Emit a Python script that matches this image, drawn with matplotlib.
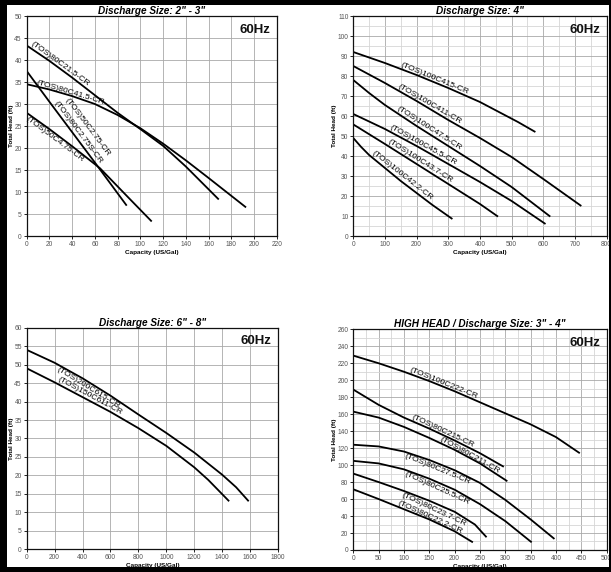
import numpy as np
import matplotlib
matplotlib.use("Agg")
from matplotlib import pyplot as plt
from matplotlib.patches import Rectangle
from matplotlib.ticker import MultipleLocator

plt.rcParams['font.family'] = ['Liberation Sans', 'DejaVu Sans']

# ---- Discharge Size: 2" - 3"  (capacity US/Gal, head ft)
q_80c215 = [0, 20, 40, 60, 80, 100, 120, 140, 169]
h_80c215 = [43.3, 39.8, 36.0, 32.0, 28.0, 24.3, 20.5, 15.8, 8.3]
q_80c415 = [0, 20, 40, 60, 80, 100, 120, 140, 160, 193]
h_80c415 = [34.5, 33.3, 31.8, 30.0, 27.5, 24.5, 21.0, 17.2, 13.2, 6.5]
q_50c275 = [0, 20, 40, 60, 88]
h_50c275 = [37.5, 30.5, 23.6, 16.7, 6.9]
q_50c475 = [0, 20, 40, 64.5, 90, 110]
h_50c475 = [28.0, 24.3, 20.4, 15.4, 8.6, 3.3]

# ---- Discharge Size: 4"
q_100c415 = [0, 100, 200, 300, 400, 460, 520, 575]
h_100c415 = [92, 86.5, 80.5, 74, 67, 62, 57, 52]
q_100c411 = [0, 100, 200, 300, 400, 500, 600, 720]
h_100c411 = [85, 76.5, 67.5, 58, 49, 39.5, 28.5, 15]
q_100c475 = [0, 50, 100, 200, 300, 400, 500, 622]
h_100c475 = [78, 71.5, 65.5, 55, 45, 35, 24.5, 9.7]
q_100c455 = [0, 100, 200, 300, 400, 500, 607]
h_100c455 = [61, 53.5, 45, 36, 27, 17.5, 6]
q_100c437 = [0, 100, 200, 300, 400, 457]
h_100c437 = [55.8, 46, 36, 26, 16, 9.7]
q_100c422 = [0, 25, 50, 100, 150, 200, 250, 313]
h_100c422 = [49, 44.5, 40.5, 34, 27.5, 21.5, 15.5, 8.5]

# ---- Discharge Size: 6" - 8"
q_200c615 = [0, 200, 400, 600, 800, 1000, 1200, 1400, 1500, 1590]
h_200c615 = [54, 50.5, 46.3, 41.6, 36.5, 31.5, 26.2, 20.2, 16.8, 13]
q_150c611 = [0, 200, 400, 600, 800, 1000, 1200, 1300, 1450]
h_150c611 = [49, 45.2, 41.2, 37.2, 32.8, 28, 22.2, 18.8, 13]

# ---- HIGH HEAD / Discharge Size: 3" - 4"
q_100c222 = [0, 50, 100, 150, 200, 250, 300, 350, 400, 447]
h_100c222 = [229, 220, 210, 199, 187, 174, 161, 148, 133, 114]
q_80c2150 = [0, 50, 100, 150, 200, 250, 297]
h_80c2150 = [189, 171, 156, 143, 129, 114, 98]
q_80c211 = [0, 50, 100, 150, 200, 250, 304]
h_80c211 = [163, 156, 145, 132, 118, 102, 81]
q_80c275 = [0, 50, 100, 150, 200, 250, 300, 350, 397]
h_80c275 = [124, 122, 116, 106, 94, 79, 59, 36, 13]
q_80c255 = [0, 50, 100, 150, 200, 250, 300, 352]
h_80c255 = [105, 102, 95, 84, 71, 54, 34, 9]
q_80c237 = [0, 50, 100, 150, 200, 240, 263]
h_80c237 = [90, 80, 69.5, 58, 45, 30, 15]
q_80c222 = [0, 50, 100, 150, 200, 236]
h_80c222 = [71.5, 60, 48, 36, 22, 9]

fig = plt.figure(figsize=(6.11, 5.72), dpi=100)
fig.patch.set_facecolor('white')


def setup(rect, title, xmax, ymax, xmaj, ymaj, xmin=None, ymin=None):
    ax = fig.add_axes(rect)
    ax.set_xlim(0, xmax)
    ax.set_ylim(0, ymax)
    ax.xaxis.set_major_locator(MultipleLocator(xmaj))
    ax.yaxis.set_major_locator(MultipleLocator(ymaj))
    if xmin:
        ax.xaxis.set_minor_locator(MultipleLocator(xmin))
    if ymin:
        ax.yaxis.set_minor_locator(MultipleLocator(ymin))
    ax.set_axisbelow(True)
    ax.grid(which='major', color='#a8a8a8', lw=0.6)
    if xmin or ymin:
        ax.grid(which='minor', color='#d6d6d6', lw=0.6)
    ax.tick_params(which='major', labelsize=4.8, labelcolor='#555555',
                   length=2, width=0.6, pad=1.5)
    ax.tick_params(which='minor', length=0)
    for s in ax.spines.values():
        s.set_linewidth(0.9)
        s.set_color('#111111')
    ax.set_title(title, fontsize=7.2, fontweight='bold', fontstyle='italic', pad=1.5)
    ax.set_xlabel('Capacity (US/Gal)', fontsize=4.6, fontweight='bold', labelpad=1.5)
    ax.set_ylabel('Total Head (ft)', fontsize=4.6, fontweight='bold', labelpad=0.5)
    ax.text(0.975, 0.965, '60Hz', transform=ax.transAxes, ha='right', va='top',
            fontsize=9.5, fontweight='bold', color='#111111')
    return ax


def curve(ax, q, h):
    ax.plot(q, h, color='black', lw=1.3, solid_capstyle='butt')


def label(ax, q, h, text, x0, x1, side='above', gap=0.5):
    y0 = np.interp(x0, q, h)
    y1 = np.interp(x1, q, h)
    p0 = ax.transData.transform((x0, y0))
    p1 = ax.transData.transform((x1, y1))
    ang = np.degrees(np.arctan2(p1[1] - p0[1], p1[0] - p0[0]))
    nx, ny = -np.sin(np.radians(ang)), np.cos(np.radians(ang))
    d = gap if side == 'above' else -gap
    ax.annotate(text, (x0, y0), xytext=(nx * d, ny * d), textcoords='offset points',
                rotation=ang, rotation_mode='anchor', ha='left',
                va='bottom' if side == 'above' else 'top', fontsize=6.1)


# top left
ax1 = setup([0.0437, 0.5874, 0.4092, 0.3846], 'Discharge Size: 2" - 3"', 220, 50, 20, 5)
curve(ax1, q_80c215, h_80c215)
curve(ax1, q_80c415, h_80c415)
curve(ax1, q_50c275, h_50c275)
curve(ax1, q_50c475, h_50c475)
label(ax1, q_80c215, h_80c215, '(TOS)80C21.5-CR', 2, 60)
label(ax1, q_80c415, h_80c415, '(TOS)80C41.5-CR', 8, 58)
label(ax1, q_50c275, h_50c275, '(TOS)80C2.75S-CR', 22, 68)
label(ax1, q_50c275, h_50c275, '(TOS)50C2.75-CR', 24, 70, gap=8.5)
label(ax1, q_50c475, h_50c475, '(TOS)50C4.75-CR', 2, 55, side='below')

# top right
ax2 = setup([0.5782, 0.5874, 0.4147, 0.3846], 'Discharge Size: 4"', 800, 110, 100, 10, 50, 5)
curve(ax2, q_100c415, h_100c415)
curve(ax2, q_100c411, h_100c411)
curve(ax2, q_100c475, h_100c475)
curve(ax2, q_100c455, h_100c455)
curve(ax2, q_100c437, h_100c437)
curve(ax2, q_100c422, h_100c422)
label(ax2, q_100c415, h_100c415, '(TOS)100C415-CR', 145, 370)
label(ax2, q_100c411, h_100c411, '(TOS)100C411-CR', 135, 350)
label(ax2, q_100c475, h_100c475, '(TOS)100C47.5-CR', 133, 335)
label(ax2, q_100c455, h_100c455, '(TOS)100C45.5-CR', 110, 335)
label(ax2, q_100c437, h_100c437, '(TOS)100C43.7-CR', 105, 320)
label(ax2, q_100c422, h_100c422, '(TOS)100C42.2-CR', 52, 250)

# bottom left
ax3 = setup([0.0437, 0.0397, 0.4113, 0.3874], 'Discharge Size: 6" - 8"', 1800, 60, 200, 5)
curve(ax3, q_200c615, h_200c615)
curve(ax3, q_150c611, h_150c611)
label(ax3, q_200c615, h_200c615, '(TOS)200C615-CR', 235, 720, side='below')
label(ax3, q_150c611, h_150c611, '(TOS)150C611-CR', 210, 690)

# bottom right
ax4 = setup([0.5782, 0.0385, 0.4147, 0.3858], 'HIGH HEAD / Discharge Size: 3" - 4"',
            500, 260, 50, 20, 25, 10)
curve(ax4, q_100c222, h_100c222)
curve(ax4, q_80c2150, h_80c2150)
curve(ax4, q_80c211, h_80c211)
curve(ax4, q_80c275, h_80c275)
curve(ax4, q_80c255, h_80c255)
curve(ax4, q_80c237, h_80c237)
curve(ax4, q_80c222, h_80c222)
label(ax4, q_100c222, h_100c222, '(TOS)100C222-CR', 108, 255)
label(ax4, q_80c2150, h_80c2150, '(TOS)80C215-CR', 112, 245)
label(ax4, q_80c211, h_80c211, '(TOS)80C211-CR', 168, 293)
label(ax4, q_80c275, h_80c275, '(TOS)80C27.5-CR', 105, 240, side='below')
label(ax4, q_80c255, h_80c255, '(TOS)80C25.5-CR', 105, 240, side='below')
label(ax4, q_80c237, h_80c237, '(TOS)80C23.7-CR', 100, 235, side='below')
label(ax4, q_80c222, h_80c222, '(TOS)80C22.2-CR', 85, 220)

# black frame round the picture
W, H = 611.0, 572.0
for r in [(0, 0, 7 / W, 1), (609 / W, 0, 2 / W, 1),
          (0, 567 / H, 1, 5 / H), (0, 0, 1, 5 / H)]:
    fig.patches.append(Rectangle(r[:2], r[2], r[3], transform=fig.transFigure,
                                 facecolor='black', edgecolor='none', zorder=100))

fig.savefig('out.png', dpi=100)
